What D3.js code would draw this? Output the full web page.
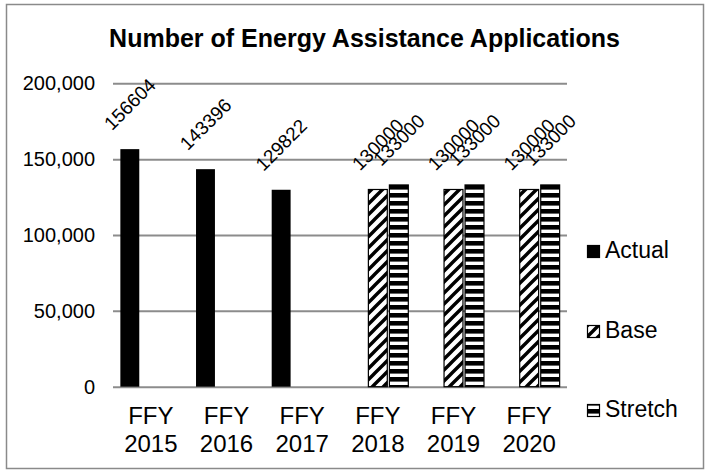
<!DOCTYPE html>
<html>
<head>
<meta charset="utf-8">
<script src="https://cdn.jsdelivr.net/npm/d3@7"></script>
<style>
  html, body { margin: 0; padding: 0; background: #fff; }
  svg { display: block; font-family: "Liberation Sans", Arial, sans-serif; }
</style>
</head>
<body>
<svg id="chart" width="710" height="474"></svg>
<script>
// Fiscal years on the category axis
const categories = ["FFY 2015", "FFY 2016", "FFY 2017", "FFY 2018", "FFY 2019", "FFY 2020"];
// Series names, in legend order
const seriesNames = ["Actual", "Base", "Stretch"];
// Values per series (null = no bar for that year)
const actualValues  = [156604, 143396, 129822, null, null, null];
const baseValues    = [null, null, null, 130000, 130000, 130000];
const stretchValues = [null, null, null, 133000, 133000, 133000];
// Value-axis ticks
const yTicks = [0, 50000, 100000, 150000, 200000];

const seriesValues = { Actual: actualValues, Base: baseValues, Stretch: stretchValues };

const svg = d3.select("#chart");

const plot = { left: 113, right: 567, top: 83.3, bottom: 386.7 };

// Fill patterns for the target series
const defs = svg.append("defs");
const diag = defs.append("pattern")
  .attr("id", "pat-base").attr("patternUnits", "userSpaceOnUse")
  .attr("width", 11).attr("height", 11);
diag.append("rect").attr("width", 11).attr("height", 11).attr("fill", "#fff");
diag.append("path")
  .attr("d", "M-3,3 L3,-3 M0,11 L11,0 M8,14 L14,8")
  .attr("stroke", "#000").attr("stroke-width", 3.4);

const horiz = defs.append("pattern")
  .attr("id", "pat-stretch").attr("patternUnits", "userSpaceOnUse")
  .attr("width", 8).attr("height", 8);
horiz.append("rect").attr("width", 8).attr("height", 8).attr("fill", "#fff");
horiz.append("rect").attr("y", 1).attr("width", 8).attr("height", 4.6).attr("fill", "#000");

const fills = { Actual: "#000", Base: "url(#pat-base)", Stretch: "url(#pat-stretch)" };

// Outer chart frame
svg.append("rect")
  .attr("x", 6.5).attr("y", 4.5).attr("width", 697).attr("height", 464)
  .attr("fill", "#fff").attr("stroke", "#8a8a8a").attr("stroke-width", 1.5);

// Title
svg.append("text")
  .attr("x", 364.5).attr("y", 46.7)
  .attr("text-anchor", "middle")
  .attr("font-size", 25).attr("font-weight", "bold").attr("fill", "#000")
  .text("Number of Energy Assistance Applications");

// Scales
const x = d3.scaleBand().domain(categories).range([plot.left, plot.right]).padding(0);
const x1 = d3.scaleBand().domain(seriesNames).range([0, x.bandwidth()])
  .paddingInner(0.1).paddingOuter(0.35);
const y = d3.scaleLinear().domain([0, 200000]).range([plot.bottom, plot.top]);

// Value axis with gridlines
const yAxis = svg.append("g")
  .attr("transform", `translate(${plot.left},0)`)
  .call(d3.axisLeft(y).tickValues(yTicks).tickFormat(d3.format(","))
    .tickSize(-(plot.right - plot.left)).tickPadding(18));
yAxis.select(".domain").remove();
yAxis.selectAll(".tick line").attr("stroke", "#8c8c8c").attr("stroke-width", 2);
yAxis.selectAll(".tick text")
  .attr("font-size", 20).attr("fill", "#000")
  .attr("font-family", "Liberation Sans, Arial, sans-serif");

// Category axis with two-line labels
const xAxis = svg.append("g")
  .attr("transform", `translate(0,${plot.bottom})`)
  .call(d3.axisBottom(x).tickSize(0).tickPadding(0));
xAxis.select(".domain").remove();
xAxis.selectAll(".tick text").each(function(d) {
  const t = d3.select(this).text(null)
    .attr("font-size", 24).attr("fill", "#000")
    .attr("font-family", "Liberation Sans, Arial, sans-serif")
    .attr("y", 0).attr("dy", null);
  const parts = d.split(" ");
  t.append("tspan").attr("x", 0).attr("y", 37.6).text(parts[0]);
  t.append("tspan").attr("x", 0).attr("y", 65).text(parts[1]);
});

// Bars
const barData = [];
categories.forEach((c, i) => {
  seriesNames.forEach(s => {
    const v = seriesValues[s][i];
    if (v != null) barData.push({ category: c, series: s, value: v });
  });
});

svg.append("g").selectAll("rect")
  .data(barData)
  .join("rect")
  .attr("x", d => x(d.category) + x1(d.series))
  .attr("y", d => y(d.value))
  .attr("width", x1.bandwidth())
  .attr("height", d => y(0) - y(d.value))
  .attr("fill", d => fills[d.series])
  .attr("stroke", d => d.series === "Actual" ? "none" : "#000")
  .attr("stroke-width", 1.2);

// Rotated value labels
svg.append("g").selectAll("text")
  .data(barData)
  .join("text")
  .attr("transform", d =>
    `translate(${x(d.category) + x1(d.series) + x1.bandwidth() / 2},${y(d.value) - 45}) rotate(-45)`)
  .attr("text-anchor", "middle")
  .attr("dy", "0.35em")
  .attr("font-size", 19).attr("fill", "#000")
  .text(d => d.value);

// Legend
const legend = svg.append("g");
const legendBaselines = [258, 338, 417];
seriesNames.forEach((s, i) => {
  const g = legend.append("g");
  g.append("rect")
    .attr("x", 587.5).attr("y", legendBaselines[i] - 12.5)
    .attr("width", 12).attr("height", 12)
    .attr("fill", fills[s])
    .attr("stroke", "#000").attr("stroke-width", 1.2);
  g.append("text")
    .attr("x", 605).attr("y", legendBaselines[i])
    .attr("font-size", 23).attr("fill", "#000")
    .text(s);
});
</script>
</body>
</html>
